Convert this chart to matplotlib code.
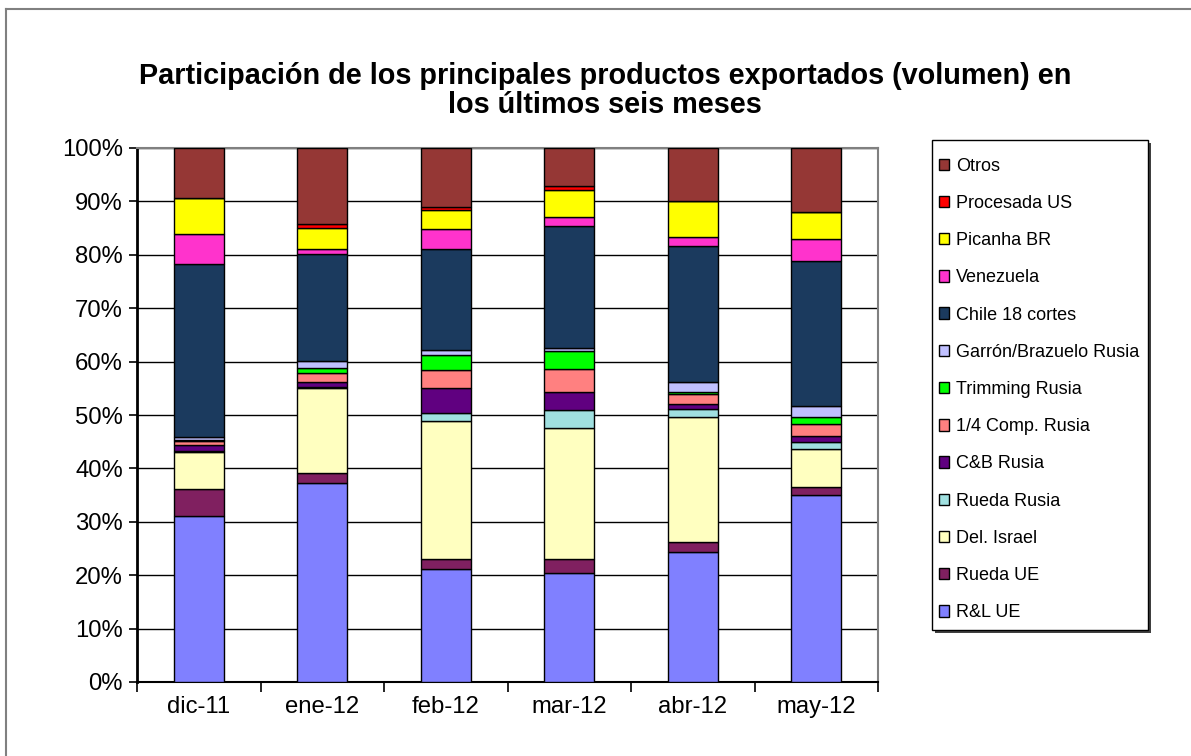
import numpy as np
import matplotlib.pyplot as plt
from matplotlib.patches import Rectangle
from matplotlib.lines import Line2D

plt.rcParams['font.family'] = ['Liberation Sans', 'DejaVu Sans']

# ---------------- Data (share of volume, %) ----------------
months = ['dic-11', 'ene-12', 'feb-12', 'mar-12', 'abr-12', 'may-12']

rl_ue        = [31.0, 37.2, 21.2, 20.4, 24.4, 35.0]
rueda_ue     = [5.2, 1.9, 1.9, 2.6, 1.9, 1.5]
del_israel   = [6.9, 15.9, 25.7, 24.5, 23.3, 7.1]
rueda_rusia  = [0.2, 0.3, 1.6, 3.4, 1.6, 1.4]
cb_rusia     = [1.0, 0.9, 4.6, 3.5, 0.9, 1.1]
comp_rusia   = [0.9, 1.6, 3.4, 4.2, 1.8, 2.2]
trimming     = [0.1, 1.0, 2.8, 3.3, 0.5, 1.4]
garron       = [0.6, 1.4, 1.0, 0.6, 1.7, 2.0]
chile18      = [32.3, 19.9, 18.9, 22.9, 25.5, 27.2]
venezuela    = [5.7, 1.0, 3.7, 1.7, 1.7, 4.0]
picanha      = [6.8, 4.0, 3.6, 5.0, 6.8, 5.2]
procesada    = [0.0, 0.6, 0.5, 0.7, 0.0, 0.0]
otros        = [9.3, 14.3, 11.1, 7.2, 9.9, 11.9]

names = ['R&L UE', 'Rueda UE', 'Del. Israel', 'Rueda Rusia', 'C&B Rusia',
         '1/4 Comp. Rusia', 'Trimming Rusia', 'Garrón/Brazuelo Rusia',
         'Chile 18 cortes', 'Venezuela', 'Picanha BR', 'Procesada US', 'Otros']
series = [rl_ue, rueda_ue, del_israel, rueda_rusia, cb_rusia, comp_rusia,
          trimming, garron, chile18, venezuela, picanha, procesada, otros]
colors = ['#8080FF', '#802060', '#FFFFC0', '#A0E0E0', '#600080', '#FF8080',
          '#00FF00', '#C0C0FF', '#1B3A5E', '#FF33CC', '#FFFF00', '#FF0000', '#953735']

# ---------------- Figure ----------------
W, H = 1191, 756
fig = plt.figure(figsize=(W / 100, H / 100), dpi=100)
# outer chart border (only top and left visible in the crop)
fig.add_artist(Line2D([6 / W, 1.0], [1 - 9 / H, 1 - 9 / H], transform=fig.transFigure,
                      color='#808080', lw=1.5))
fig.add_artist(Line2D([6 / W, 6 / W], [0.0, 1 - 9 / H], transform=fig.transFigure,
                      color='#808080', lw=1.5))

ax = fig.add_axes([137 / W, 74 / H, 741 / W, 534 / H])
x = np.arange(len(months))
bottom = np.zeros(len(months))
handles = []
for vals, name, col in zip(series, names, colors):
    b = ax.bar(x, vals, width=0.405, bottom=bottom, color=col, edgecolor='black',
               linewidth=1.0, label=name, zorder=3)
    handles.append(b)
    bottom += np.array(vals)

ax.set_xlim(-0.5, len(months) - 0.5)
ax.set_ylim(0, 100)
ax.set_yticks(np.arange(0, 101, 10))
ax.set_yticklabels([f'{v}%' for v in range(0, 101, 10)], fontsize=17.2)
ax.yaxis.grid(True, color='black', lw=1, zorder=0)
ax.set_xticks(x)
ax.set_xticklabels(months, fontsize=17.2)
ax.tick_params(axis='x', length=0, pad=10)
ax.set_xticks(np.arange(-0.5, len(months), 1), minor=True)
ax.tick_params(axis='x', which='minor', length=7, width=1.2, direction='out')
ax.tick_params(axis='y', length=6, width=1.2, direction='out', pad=4)
for s in ['top', 'right']:
    ax.spines[s].set_color('#808080')
    ax.spines[s].set_linewidth(1.5)
ax.spines['left'].set_linewidth(2)
ax.spines['bottom'].set_linewidth(1.5)

fig.text(605 / W, 1 - 76 / H, 'Participación de los principales productos exportados (volumen) en',
         ha='center', va='center', fontsize=20.8, fontweight='bold')
fig.text(605 / W, 1 - 105 / H, 'los últimos seis meses',
         ha='center', va='center', fontsize=20.8, fontweight='bold')

# legend frame with a small shadow
fig.patches.append(Rectangle((935 / W, 1 - 633 / H), 216 / W, 490 / H, transform=fig.transFigure,
                             facecolor='#404040', edgecolor='none', zorder=1))
fig.patches.append(Rectangle((932 / W, 1 - 630 / H), 216 / W, 490 / H, transform=fig.transFigure,
                             facecolor='white', edgecolor='black', lw=1.0, zorder=2))
leg = fig.legend(handles[::-1], names[::-1], loc='upper left',
                 bbox_to_anchor=(935 / W, 1 - 154 / H), borderaxespad=0,
                 fontsize=13, frameon=False,
                 handlelength=0.6, handleheight=0.6, handletextpad=0.35,
                 labelspacing=1.12, borderpad=0.2)
leg.set_zorder(5)

fig.savefig('out.png', dpi=100)
